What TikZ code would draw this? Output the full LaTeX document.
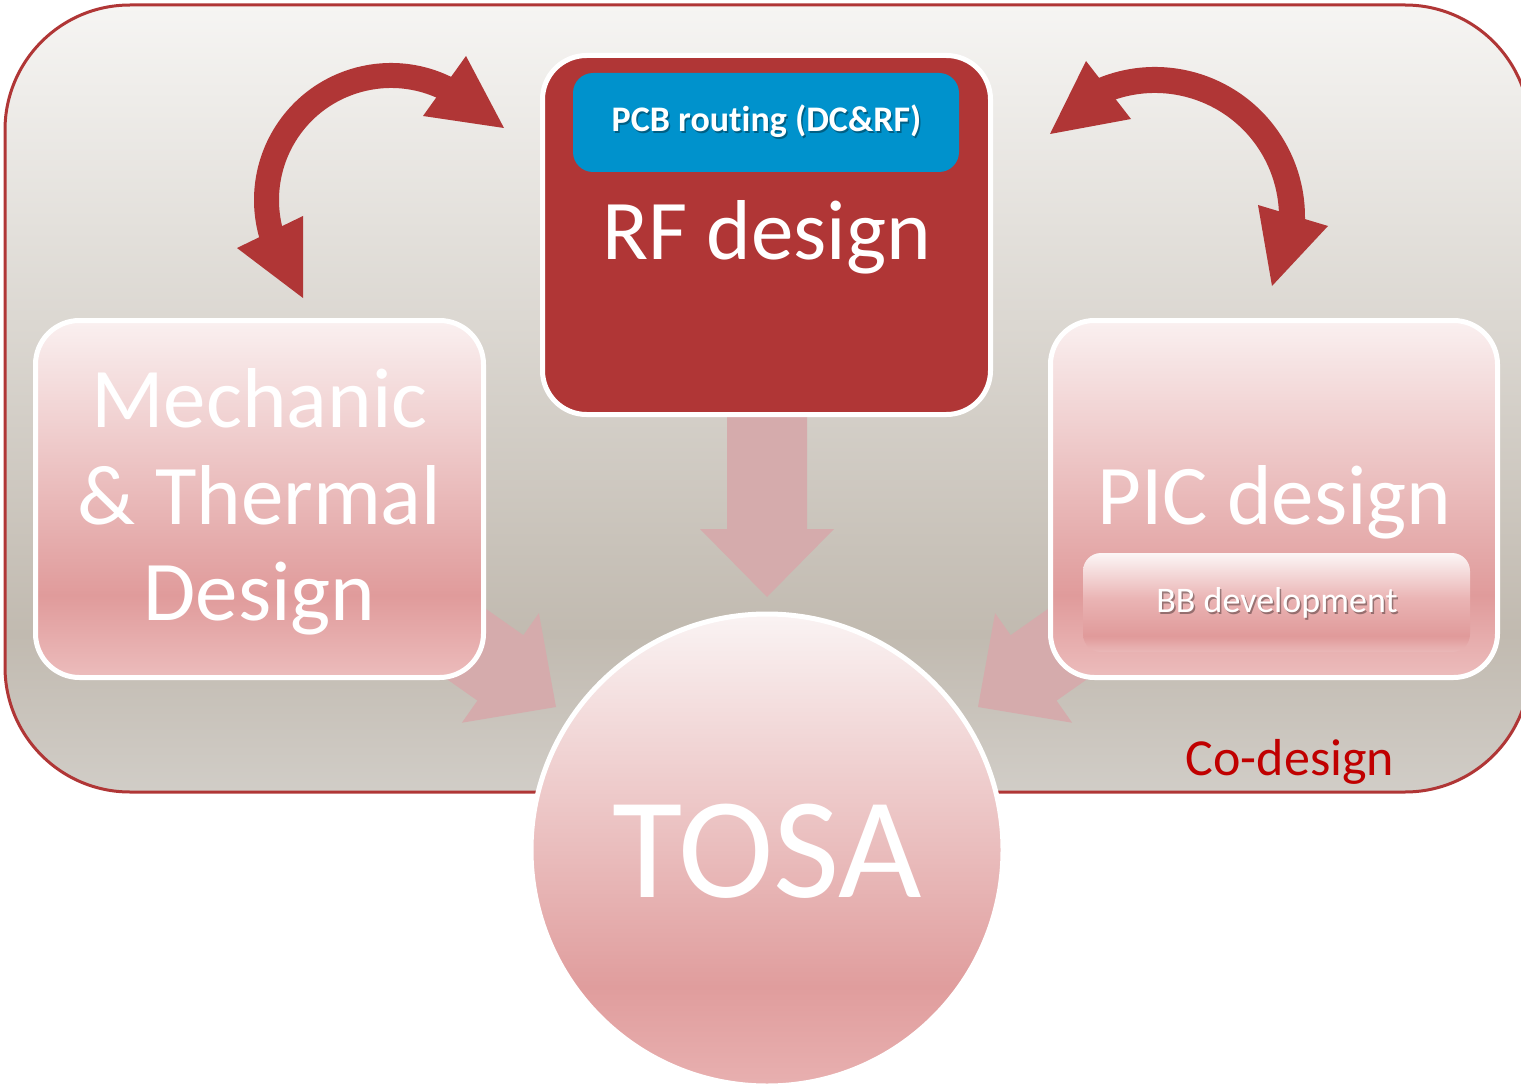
\documentclass[tikz,border=0pt]{standalone}
\usepackage{fontspec}
\setmainfont{Carlito}[Ligatures=NoCommon]
\usetikzlibrary{calc}
\definecolor{darkred}{RGB}{176,54,54}
\definecolor{pcbblue}{RGB}{0,146,204}
\definecolor{palearrow}{RGB}{213,171,172}
\definecolor{codesign}{RGB}{192,0,0}
\definecolor{bgtop}{RGB}{246,245,243}
\definecolor{bgdark}{RGB}{193,186,176}
\definecolor{bgbot}{RGB}{209,205,199}
\definecolor{pktop}{RGB}{250,240,240}
\definecolor{pkdark}{RGB}{224,155,155}
\definecolor{pkbot}{RGB}{236,188,188}
\definecolor{cctop}{RGB}{250,243,243}
\definecolor{ccdark}{RGB}{224,157,157}
\definecolor{ccbot}{RGB}{232,176,176}
\definecolor{bbtop}{RGB}{252,246,246}
\definecolor{bbmid}{RGB}{234,180,180}
\definecolor{bbdark}{RGB}{224,154,154}
\definecolor{bbbot}{RGB}{234,184,184}
\pgfdeclareverticalshading{bgshade}{100bp}{color(0bp)=(bgbot); color(25bp)=(bgbot); color(35bp)=(bgdark); color(75bp)=(bgtop); color(100bp)=(bgtop)}
\pgfdeclareverticalshading{boxshade}{100bp}{color(0bp)=(pkbot); color(25bp)=(pkbot); color(36.5bp)=(pkdark); color(75bp)=(pktop); color(100bp)=(pktop)}
\pgfdeclareverticalshading{circshade}{100bp}{color(0bp)=(ccbot); color(25bp)=(ccbot); color(35.5bp)=(ccdark); color(75bp)=(cctop); color(100bp)=(cctop)}
\pgfdeclareverticalshading{bbshade}{100bp}{color(0bp)=(bbbot); color(25bp)=(bbbot); color(33bp)=(bbdark); color(52bp)=(bbmid); color(75bp)=(bbtop); color(100bp)=(bbtop)}
\begin{document}
\begin{tikzpicture}[x=1pt,y=-1pt,
  pinkbox/.style={rectangle, rounded corners=44pt, draw=white, line width=5pt, shade, shading=boxshade, minimum width=448pt, minimum height=357pt, inner sep=0pt},
  bigtext/.style={anchor=base, text=white, inner sep=0pt, font=\fontsize{85}{97}\selectfont},
  smalltext/.style={anchor=base, text=white, inner sep=0pt},
  shadowtext/.style={anchor=base, text=black, opacity=0.35, inner sep=0pt},
  curvearrow/.style={draw=darkred, line width=25pt},
  arrowhead/.style={fill=darkred},
  blockarrow/.style={fill=palearrow}]
\clip (0,0) rectangle (1521,1086);
\fill[white] (0,0) rectangle (1521,1086);
% background panel
\path[shade, shading=bgshade, draw=darkred, line width=3pt, rounded corners=125pt] (5,5) rectangle (1530,792);
% block arrows towards TOSA
\fill[blockarrow] (727,405) -- (727,529) -- (700,529) -- (767,597) -- (834,529) -- (807,529) -- (807,405) -- cycle;
\fill[blockarrow] (441.6,577.7) -- (523.4,635.2) -- (538.9,613.1) -- (556,707) -- (461.9,722.7) -- (477.4,700.6) -- (395.6,643.1) -- cycle;
\fill[blockarrow] (1092.4,577.7) -- (1010.6,635.2) -- (995.1,613.1) -- (978,707) -- (1072.1,722.7) -- (1056.6,700.6) -- (1138.4,643.1) -- cycle;
% RF box
\node[rectangle, rounded corners=44pt, draw=white, line width=5pt, fill=darkred, minimum width=448pt, minimum height=359pt, inner sep=0pt] (rf) at (766.5,235) {};
\node[rectangle, rounded corners=20pt, fill=pcbblue, minimum width=386pt, minimum height=99pt, inner sep=0pt] (pcb) at (766,122.5) {};
\node[shadowtext, font=\bfseries\fontsize{36}{40}\selectfont] (pcbshadow) at (768,134) {PCB routing (DC\&RF)};
\node[smalltext, font=\bfseries\fontsize{36}{40}\selectfont] (pcbtext) at (766.5,132) {PCB routing (DC\&RF)};
\node[bigtext] (rftext) at (766.5,259) {RF design};
% Mechanic box
\node[pinkbox] (mech) at (259.5,499) {};
\node[bigtext] (mech1) at (259.5,427) {Mechanic};
\node[bigtext] (mech2) at (259.5,524) {\& Thermal};
\node[bigtext] (mech3) at (259.5,620) {Design};
% PIC box
\node[pinkbox, minimum width=447pt] (pic) at (1274,499) {};
\node[bigtext] (pictext) at (1274.5,524) {PIC design};
\node[rectangle, rounded corners=18pt, shade, shading=bbshade, minimum width=387pt, minimum height=99pt, inner sep=0pt] (bb) at (1276.5,602.5) {};
\node[shadowtext, font=\fontsize{36}{40}\selectfont] (bbshadow) at (1278.5,614) {BB development};
\node[smalltext, font=\fontsize{36}{40}\selectfont] (bbtext) at (1277,612) {BB development};
% TOSA
\node[circle, draw=white, line width=5pt, shade, shading=circshade, minimum size=472pt, inner sep=0pt] (tosa) at (767,850) {};
\node[anchor=base, text=white, inner sep=0pt, font=\fontsize{144}{150}\selectfont] (tosatext) at (767,897) {TOSA};
% Co-design label
\node[anchor=base, text=codesign, inner sep=0pt, font=\fontsize{52}{60}\selectfont] (codesign) at (1290,775) {Co-design};
% curved double arrows
\draw[curvearrow] ($(391,200)+(-60:124.5)$) arc[start angle=-60, end angle=-199, radius=124.5];
\fill[arrowhead] (466,56) -- (504,128) -- (423,116) -- cycle;
\fill[arrowhead] (237,248) -- (303,216) -- (303,298) -- cycle;
\draw[curvearrow, line width=26pt] ($(1155,217)+(-114:137)$) arc[start angle=-114, end angle=4, radius=137];
\fill[arrowhead] (1086,61) -- (1131,119) -- (1050,134) -- cycle;
\fill[arrowhead] (1258,205) -- (1328,226) -- (1272,286) -- cycle;
\end{tikzpicture}
\end{document}
